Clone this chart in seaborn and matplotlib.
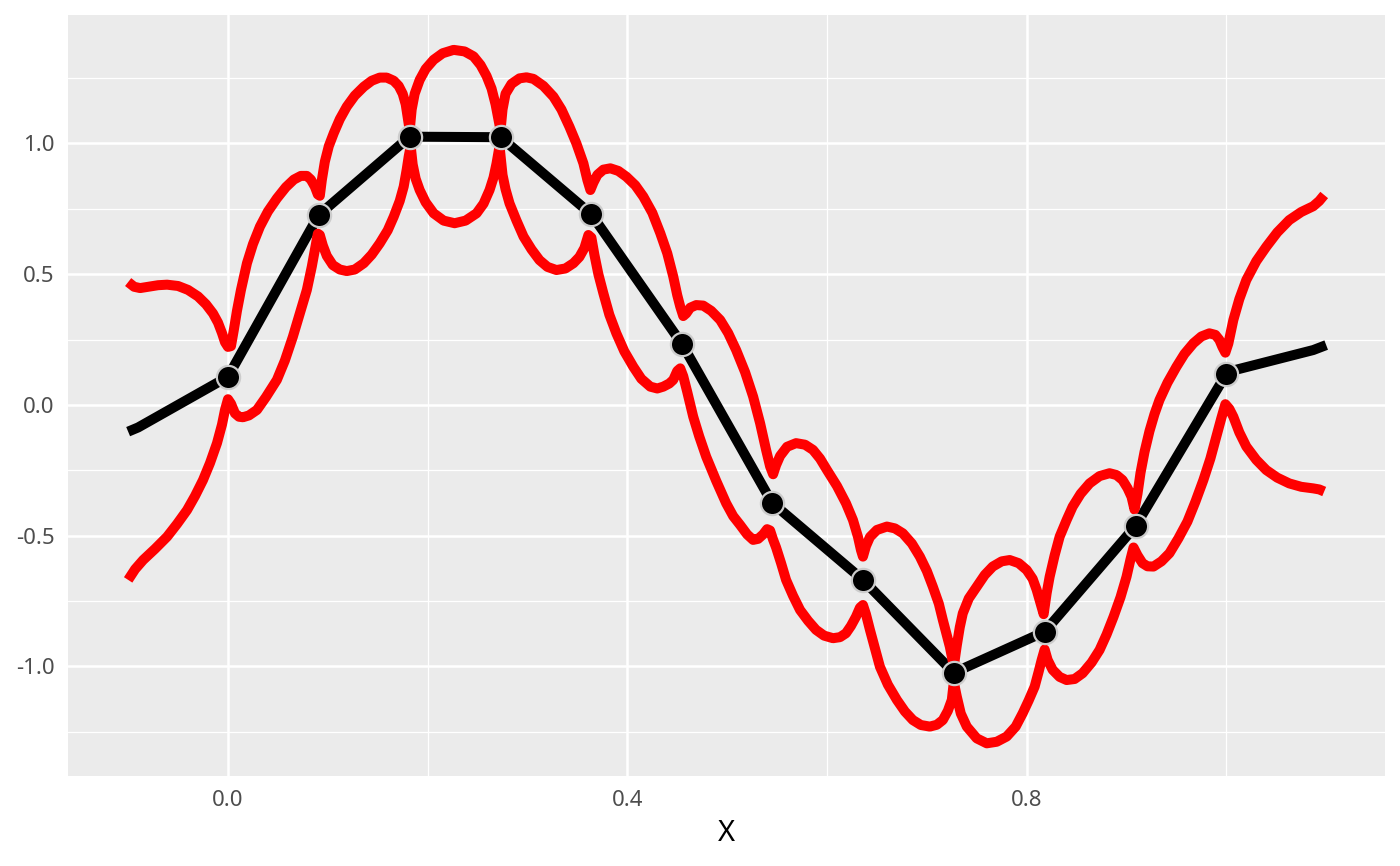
import matplotlib
matplotlib.use("Agg")
import matplotlib.pyplot as plt
import seaborn as sns
from matplotlib.ticker import MultipleLocator

# observed points (black dots)
obs_x = [0.0, 0.091, 0.182, 0.273, 0.364, 0.455, 0.545, 0.636, 0.727, 0.818, 0.909, 1.0]
obs_y = [0.108, 0.727, 1.026, 1.024, 0.729, 0.232, -0.374, -0.669, -1.024, -0.867, -0.463, 0.119]

# predicted mean (black line), including the short extrapolated ends
mean_x = [-0.100, -0.090] + obs_x + [1.009, 1.087, 1.100]
mean_y = [-0.102, -0.086] + obs_y + [0.134, 0.210, 0.229]

# upper band (red), (x, y)
upper_band = [
    (-0.100, 0.470), (-0.094, 0.452), (-0.088, 0.447), (-0.080, 0.452), (-0.070, 0.458),
    (-0.061, 0.460), (-0.050, 0.455), (-0.040, 0.440), (-0.030, 0.415), (-0.022, 0.385),
    (-0.015, 0.350), (-0.010, 0.315), (-0.006, 0.275), (-0.003, 0.240), (0.000, 0.222),
    (0.003, 0.225), (0.006, 0.290), (0.009, 0.360), (0.013, 0.440), (0.019, 0.542),
    (0.025, 0.615), (0.032, 0.682), (0.040, 0.740), (0.049, 0.790), (0.058, 0.833),
    (0.066, 0.862), (0.073, 0.876), (0.079, 0.876), (0.083, 0.862), (0.087, 0.835),
    (0.090, 0.805), (0.092, 0.800), (0.094, 0.860), (0.097, 0.930), (0.101, 0.990),
    (0.106, 1.040), (0.112, 1.093), (0.119, 1.141), (0.127, 1.183), (0.136, 1.217),
    (0.144, 1.240), (0.152, 1.252), (0.159, 1.252), (0.166, 1.240), (0.171, 1.220),
    (0.175, 1.190), (0.178, 1.150), (0.180, 1.100), (0.182, 1.050), (0.184, 1.130),
    (0.187, 1.190), (0.192, 1.243), (0.198, 1.285), (0.206, 1.320), (0.215, 1.345),
    (0.226, 1.358), (0.237, 1.352), (0.246, 1.333), (0.253, 1.300), (0.259, 1.258),
    (0.264, 1.210), (0.268, 1.150), (0.271, 1.090), (0.273, 1.050), (0.275, 1.130),
    (0.278, 1.190), (0.284, 1.228), (0.292, 1.249), (0.299, 1.253), (0.306, 1.247),
    (0.316, 1.220), (0.326, 1.179), (0.334, 1.130), (0.342, 1.064), (0.349, 1.000),
    (0.356, 0.924), (0.360, 0.860), (0.363, 0.822), (0.366, 0.850), (0.370, 0.880),
    (0.376, 0.900), (0.383, 0.905), (0.391, 0.895), (0.399, 0.873), (0.408, 0.840),
    (0.416, 0.797), (0.425, 0.735), (0.433, 0.657), (0.440, 0.580), (0.446, 0.491),
    (0.450, 0.420), (0.453, 0.376), (0.456, 0.340), (0.459, 0.350), (0.463, 0.372),
    (0.469, 0.382), (0.476, 0.380), (0.484, 0.360), (0.493, 0.325), (0.501, 0.275),
    (0.509, 0.210), (0.518, 0.125), (0.526, 0.032), (0.533, -0.070), (0.539, -0.172),
    (0.543, -0.235), (0.546, -0.265), (0.549, -0.230), (0.553, -0.195), (0.560, -0.160),
    (0.569, -0.146), (0.578, -0.152), (0.586, -0.172), (0.593, -0.205), (0.600, -0.249),
    (0.610, -0.310), (0.619, -0.376), (0.626, -0.440), (0.631, -0.504), (0.634, -0.555),
    (0.636, -0.580), (0.639, -0.540), (0.643, -0.505), (0.650, -0.478), (0.660, -0.465),
    (0.668, -0.472), (0.676, -0.491), (0.685, -0.530), (0.693, -0.580), (0.700, -0.635),
    (0.706, -0.695), (0.712, -0.760), (0.716, -0.822), (0.720, -0.880), (0.723, -0.924),
    (0.727, -1.000), (0.730, -0.920), (0.733, -0.850), (0.736, -0.797), (0.742, -0.740),
    (0.750, -0.695), (0.758, -0.650), (0.766, -0.618), (0.775, -0.598), (0.783, -0.593),
    (0.792, -0.605), (0.800, -0.631), (0.806, -0.665), (0.810, -0.707), (0.814, -0.760),
    (0.817, -0.800), (0.820, -0.720), (0.823, -0.657), (0.828, -0.575), (0.833, -0.504),
    (0.840, -0.440), (0.846, -0.389), (0.854, -0.340), (0.863, -0.300), (0.873, -0.272),
    (0.883, -0.261), (0.890, -0.268), (0.896, -0.287), (0.901, -0.318), (0.905, -0.351),
    (0.908, -0.400), (0.911, -0.340), (0.914, -0.260), (0.918, -0.180), (0.923, -0.100),
    (0.928, -0.035), (0.933, 0.019), (0.941, 0.085), (0.950, 0.146), (0.958, 0.195),
    (0.967, 0.236), (0.975, 0.262), (0.983, 0.274), (0.989, 0.268), (0.993, 0.249),
    (0.996, 0.222), (0.999, 0.200), (1.002, 0.235), (1.007, 0.325), (1.013, 0.405),
    (1.020, 0.478), (1.030, 0.550), (1.040, 0.605), (1.051, 0.660), (1.063, 0.707),
    (1.075, 0.738), (1.087, 0.760), (1.093, 0.780), (1.098, 0.803),
]

# lower band (red)
lower_band = [
    (-0.100, -0.669), (-0.093, -0.628), (-0.085, -0.593), (-0.073, -0.550), (-0.061, -0.504),
    (-0.051, -0.455), (-0.041, -0.402), (-0.033, -0.348), (-0.025, -0.287), (-0.018, -0.222),
    (-0.011, -0.146), (-0.006, -0.075), (-0.003, -0.019), (0.000, 0.022), (0.003, 0.005),
    (0.007, -0.032), (0.011, -0.045), (0.015, -0.047), (0.021, -0.040), (0.029, -0.019),
    (0.038, 0.030), (0.049, 0.096), (0.057, 0.170), (0.065, 0.261), (0.072, 0.350),
    (0.079, 0.440), (0.084, 0.530), (0.087, 0.593), (0.090, 0.655), (0.092, 0.650),
    (0.095, 0.610), (0.099, 0.570), (0.105, 0.535), (0.112, 0.518), (0.119, 0.512),
    (0.127, 0.518), (0.136, 0.542), (0.144, 0.575), (0.152, 0.618), (0.160, 0.668),
    (0.166, 0.720), (0.172, 0.780), (0.176, 0.835), (0.179, 0.900), (0.181, 0.950),
    (0.183, 0.990), (0.185, 0.920), (0.188, 0.865), (0.192, 0.822), (0.198, 0.775),
    (0.206, 0.733), (0.216, 0.705), (0.227, 0.695), (0.238, 0.705), (0.249, 0.733),
    (0.256, 0.770), (0.262, 0.822), (0.266, 0.870), (0.269, 0.924), (0.272, 0.990),
    (0.275, 0.880), (0.278, 0.825), (0.282, 0.771), (0.289, 0.705), (0.296, 0.644),
    (0.304, 0.595), (0.312, 0.554), (0.320, 0.528), (0.329, 0.516), (0.338, 0.522),
    (0.346, 0.542), (0.352, 0.566), (0.357, 0.600), (0.361, 0.650), (0.364, 0.640),
    (0.367, 0.575), (0.371, 0.500), (0.376, 0.427), (0.382, 0.345), (0.389, 0.274),
    (0.397, 0.205), (0.406, 0.146), (0.414, 0.100), (0.423, 0.070), (0.430, 0.063),
    (0.436, 0.070), (0.442, 0.082), (0.446, 0.096), (0.450, 0.130), (0.453, 0.140),
    (0.456, 0.110), (0.460, 0.050), (0.466, -0.045), (0.472, -0.120), (0.479, -0.198),
    (0.489, -0.290), (0.499, -0.376), (0.506, -0.425), (0.513, -0.459), (0.520, -0.495),
    (0.526, -0.516), (0.531, -0.512), (0.536, -0.495), (0.540, -0.475), (0.543, -0.480),
    (0.546, -0.515), (0.549, -0.545), (0.554, -0.605), (0.559, -0.669), (0.566, -0.730),
    (0.573, -0.784), (0.581, -0.825), (0.589, -0.860), (0.597, -0.882), (0.606, -0.892),
    (0.613, -0.888), (0.619, -0.873), (0.624, -0.845), (0.629, -0.810), (0.633, -0.775),
    (0.636, -0.765), (0.639, -0.800), (0.643, -0.860), (0.648, -0.930), (0.653, -1.001),
    (0.661, -1.070), (0.670, -1.128), (0.678, -1.172), (0.686, -1.205), (0.694, -1.224),
    (0.703, -1.230), (0.710, -1.223), (0.716, -1.205), (0.721, -1.170), (0.725, -1.128),
    (0.727, -1.060), (0.730, -1.115), (0.734, -1.180), (0.740, -1.230), (0.750, -1.275),
    (0.760, -1.294), (0.770, -1.288), (0.780, -1.268), (0.789, -1.230), (0.796, -1.179),
    (0.802, -1.130), (0.808, -1.077), (0.812, -1.020), (0.815, -0.975), (0.818, -0.935),
    (0.821, -0.975), (0.826, -1.013), (0.833, -1.040), (0.840, -1.052), (0.848, -1.048),
    (0.856, -1.026), (0.865, -0.985), (0.873, -0.937), (0.880, -0.878), (0.887, -0.810),
    (0.894, -0.735), (0.900, -0.657), (0.904, -0.590), (0.907, -0.545), (0.911, -0.575),
    (0.916, -0.605), (0.921, -0.617), (0.927, -0.618), (0.935, -0.598), (0.943, -0.567),
    (0.952, -0.510), (0.961, -0.446), (0.969, -0.370), (0.977, -0.287), (0.984, -0.205),
    (0.990, -0.121), (0.995, -0.050), (0.999, 0.003), (1.003, -0.015), (1.007, -0.045),
    (1.013, -0.105), (1.020, -0.159), (1.030, -0.210), (1.040, -0.249), (1.051, -0.278),
    (1.063, -0.300), (1.075, -0.313), (1.087, -0.319), (1.093, -0.323), (1.098, -0.331),
]
upper_x, upper_y = zip(*upper_band)
lower_x, lower_y = zip(*lower_band)

# ggplot-like look
sns.set_theme(style="darkgrid", rc={
    "axes.facecolor": "#EBEBEB",
    "grid.color": "white",
    "axes.edgecolor": "#EBEBEB",
    "xtick.color": "#333333",
    "ytick.color": "#333333",
    "xtick.labelcolor": "#4D4D4D",
    "ytick.labelcolor": "#4D4D4D",
})
plt.rcParams["font.family"] = ["Noto Sans", "DejaVu Sans"]

fig, ax = plt.subplots(figsize=(7, 4.33), dpi=200)
fig.subplots_adjust(left=0.0486, right=0.989, top=0.9827, bottom=0.104)

line_kw = dict(linewidth=3.6, estimator=None, sort=False, ax=ax,
               solid_capstyle="butt", solid_joinstyle="round")
sns.lineplot(x=mean_x, y=mean_y, color="black", zorder=3, **line_kw)
sns.lineplot(x=list(upper_x), y=list(upper_y), color="red", zorder=4, **line_kw)
sns.lineplot(x=list(lower_x), y=list(lower_y), color="red", zorder=4, **line_kw)
sns.scatterplot(x=obs_x, y=obs_y, color="black", s=70, edgecolor="#CCCCCC",
                linewidth=0.8, ax=ax, zorder=5)

ax.set_xlim(-0.1602, 1.1585)
ax.set_ylim(-1.4187, 1.4914)
ax.xaxis.set_major_locator(MultipleLocator(0.4))
ax.xaxis.set_minor_locator(MultipleLocator(0.2))
ax.yaxis.set_major_locator(MultipleLocator(0.5))
ax.yaxis.set_minor_locator(MultipleLocator(0.25))
ax.set_xticklabels([f"{v:.1f}" for v in ax.get_xticks()])
ax.set_yticklabels([f"{v:.1f}" for v in ax.get_yticks()])
ax.grid(which="major", color="white", linewidth=0.9)
ax.grid(which="minor", color="white", linewidth=0.45)
ax.tick_params(which="major", length=2.75, width=1.0, labelsize=8, pad=2.2)
ax.tick_params(which="minor", length=0)
for s in ax.spines.values():
    s.set_visible(False)

ax.set_xlabel("X", fontsize=10.5, color="black", labelpad=3)
ax.set_ylabel("")

fig.savefig("out.png", dpi=200)
